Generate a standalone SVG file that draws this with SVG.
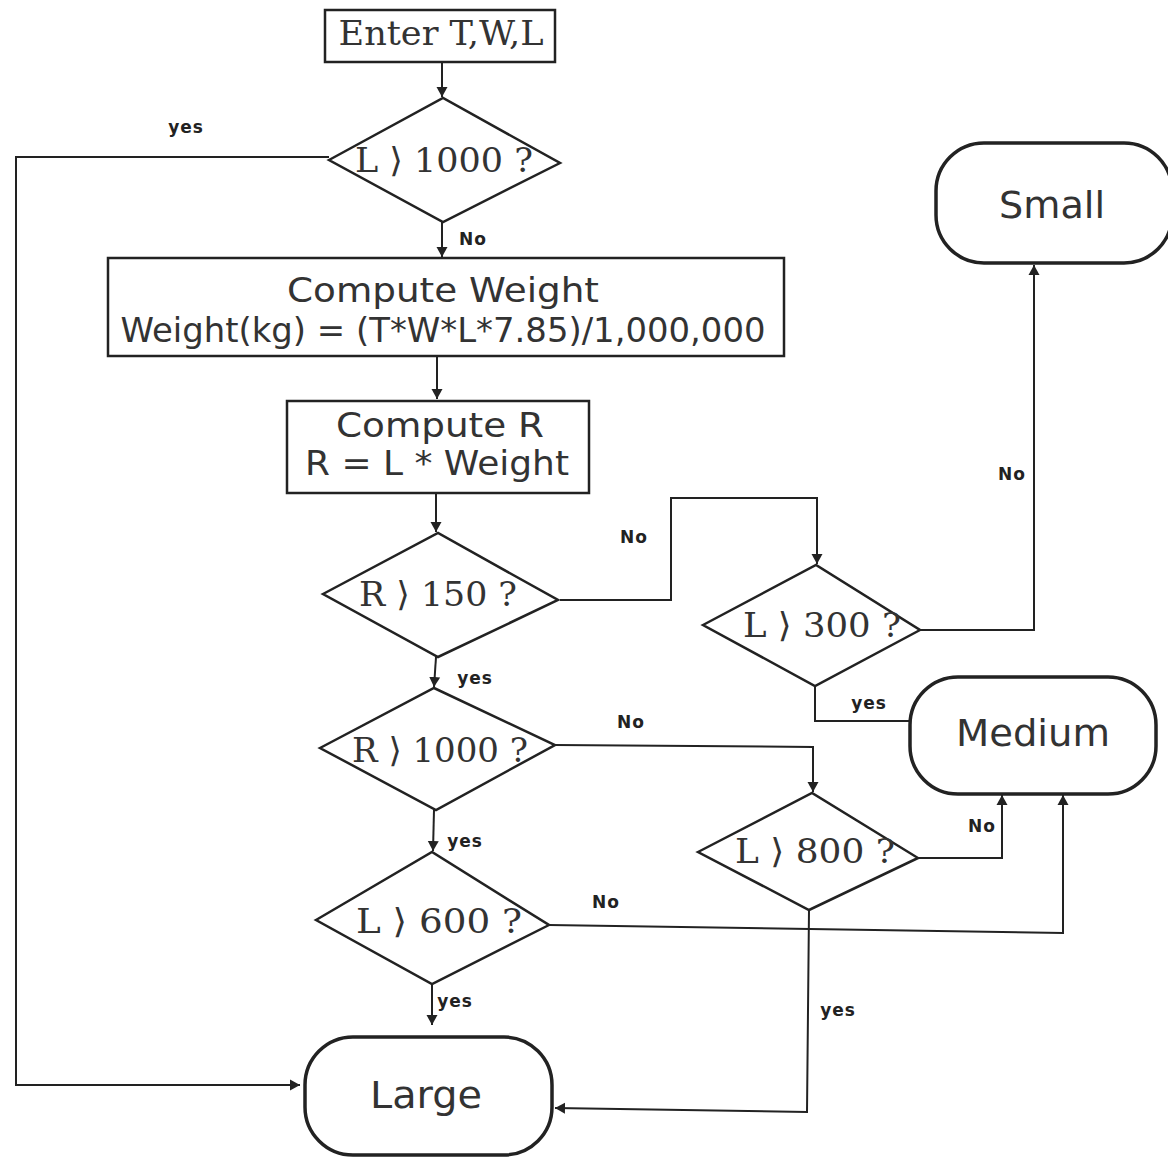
<svg xmlns="http://www.w3.org/2000/svg" width="1168" height="1158" viewBox="0 0 1168 1158">
<style>
.box{fill:#fff;stroke:#222;stroke-width:2.5}
.term{fill:#fff;stroke:#222;stroke-width:3.5}
.dia{fill:#fff;stroke:#222;stroke-width:2.5}
.con{fill:none;stroke:#222;stroke-width:2}
.ser{font-family:"DejaVu Serif","Liberation Serif",serif;font-size:34px;fill:#333;text-anchor:middle}
.sans{font-family:"DejaVu Sans","Liberation Sans",sans-serif;font-size:33px;fill:#333;text-anchor:middle}
.big{font-family:"DejaVu Sans","Liberation Sans",sans-serif;font-size:38px;fill:#333;text-anchor:middle}
.lbl{font-family:"DejaVu Sans","Liberation Sans",sans-serif;font-size:17px;font-weight:bold;fill:#222;text-anchor:middle;letter-spacing:1px}
</style>
<defs>
<marker id="ah" markerWidth="10" markerHeight="14" refX="10" refY="7" orient="auto" markerUnits="userSpaceOnUse">
<path d="M0,1.5 L10,7 L0,12.5 Z" fill="#222"/>
</marker>
</defs>
<rect width="1168" height="1158" fill="#fff"/>

<g id="connectors">
<line class="con" x1="442" y1="62" x2="442" y2="97" marker-end="url(#ah)"/>
<polyline class="con" points="329,157 16,157 16,1085 300,1085" marker-end="url(#ah)"/>
<line class="con" x1="442" y1="222" x2="442" y2="257" marker-end="url(#ah)"/>
<line class="con" x1="437" y1="356" x2="437" y2="399" marker-end="url(#ah)"/>
<line class="con" x1="436" y1="493" x2="436" y2="532" marker-end="url(#ah)"/>
<polyline class="con" points="560,600 671,600 671,498 817,498 817,564" marker-end="url(#ah)"/>
<polyline class="con" points="920,630 1034,630 1034,265" marker-end="url(#ah)"/>
<polyline class="con" points="815,686 815,721 910,721"/>
<line class="con" x1="436" y1="657" x2="434" y2="687" marker-end="url(#ah)"/>
<polyline class="con" points="555,745 813,747 813,792" marker-end="url(#ah)"/>
<polyline class="con" points="918,858 1002,858 1002,795" marker-end="url(#ah)"/>
<line class="con" x1="434" y1="810" x2="433" y2="851" marker-end="url(#ah)"/>
<polyline class="con" points="549,925 1063,933 1063,795" marker-end="url(#ah)"/>
<line class="con" x1="432" y1="984" x2="432" y2="1025" marker-end="url(#ah)"/>
<polyline class="con" points="809,910 807,1112 555,1108" marker-end="url(#ah)"/>
</g>

<g id="labels">
<text class="lbl" x="186" y="133">yes</text>
<text class="lbl" x="473" y="245">No</text>
<text class="lbl" x="634" y="543">No</text>
<text class="lbl" x="1012" y="480">No</text>
<text class="lbl" x="475" y="684">yes</text>
<text class="lbl" x="869" y="709">yes</text>
<text class="lbl" x="631" y="728">No</text>
<text class="lbl" x="982" y="832">No</text>
<text class="lbl" x="465" y="847">yes</text>
<text class="lbl" x="606" y="908">No</text>
<text class="lbl" x="455" y="1007">yes</text>
<text class="lbl" x="838" y="1016">yes</text>
</g>

<g id="enter">
<rect class="box" x="325" y="10" width="230" height="52"/>
<text class="ser" x="441" y="45" textLength="205" lengthAdjust="spacingAndGlyphs">Enter T,W,L</text>
</g>

<g id="d_l1000">
<polygon class="dia" points="329,160 443,98 560,163 443,222"/>
<text class="ser" x="444" y="172" textLength="178" lengthAdjust="spacingAndGlyphs">L ⟩ 1000 ?</text>
</g>

<g id="compute_weight">
<rect class="box" x="108" y="258" width="676" height="98"/>
<text class="sans" x="443" y="302" textLength="312" lengthAdjust="spacingAndGlyphs">Compute Weight</text>
<text class="sans" x="443" y="342" textLength="645" lengthAdjust="spacingAndGlyphs">Weight(kg) = (T*W*L*7.85)/1,000,000</text>
</g>

<g id="compute_r">
<rect class="box" x="287" y="401" width="302" height="92"/>
<text class="sans" x="440" y="437" textLength="208" lengthAdjust="spacingAndGlyphs">Compute R</text>
<text class="sans" x="437" y="475" textLength="264" lengthAdjust="spacingAndGlyphs">R = L * Weight</text>
</g>

<g id="d_r150">
<polygon class="dia" points="323,594 438,533 558,600 438,657"/>
<text class="ser" x="438" y="606" textLength="158" lengthAdjust="spacingAndGlyphs">R ⟩ 150 ?</text>
</g>

<g id="d_l300">
<polygon class="dia" points="703,625 816,565 920,630 815,686"/>
<text class="ser" x="822" y="637" textLength="158" lengthAdjust="spacingAndGlyphs">L ⟩ 300 ?</text>
</g>

<g id="small">
<rect class="term" x="936" y="143" width="236" height="120" rx="48" ry="48"/>
<text class="big" x="1052" y="218" textLength="106" lengthAdjust="spacingAndGlyphs">Small</text>
</g>

<g id="medium">
<rect class="term" x="910" y="677" width="246" height="117" rx="48" ry="48"/>
<text class="big" x="1033" y="746" textLength="154" lengthAdjust="spacingAndGlyphs">Medium</text>
</g>

<g id="d_r1000">
<polygon class="dia" points="320,748 434,688 555,745 436,810"/>
<text class="ser" x="440" y="762" textLength="176" lengthAdjust="spacingAndGlyphs">R ⟩ 1000 ?</text>
</g>

<g id="d_l800">
<polygon class="dia" points="698,852 812,793 918,858 809,910"/>
<text class="ser" x="815" y="863" textLength="160" lengthAdjust="spacingAndGlyphs">L ⟩ 800 ?</text>
</g>

<g id="d_l600">
<polygon class="dia" points="316,920 432,852 549,925 432,984"/>
<text class="ser" x="439" y="933" textLength="166" lengthAdjust="spacingAndGlyphs">L ⟩ 600 ?</text>
</g>

<g id="large">
<rect class="term" x="305" y="1037" width="247" height="118" rx="48" ry="48"/>
<text class="big" x="426" y="1108" textLength="112" lengthAdjust="spacingAndGlyphs">Large</text>
</g>
</svg>
